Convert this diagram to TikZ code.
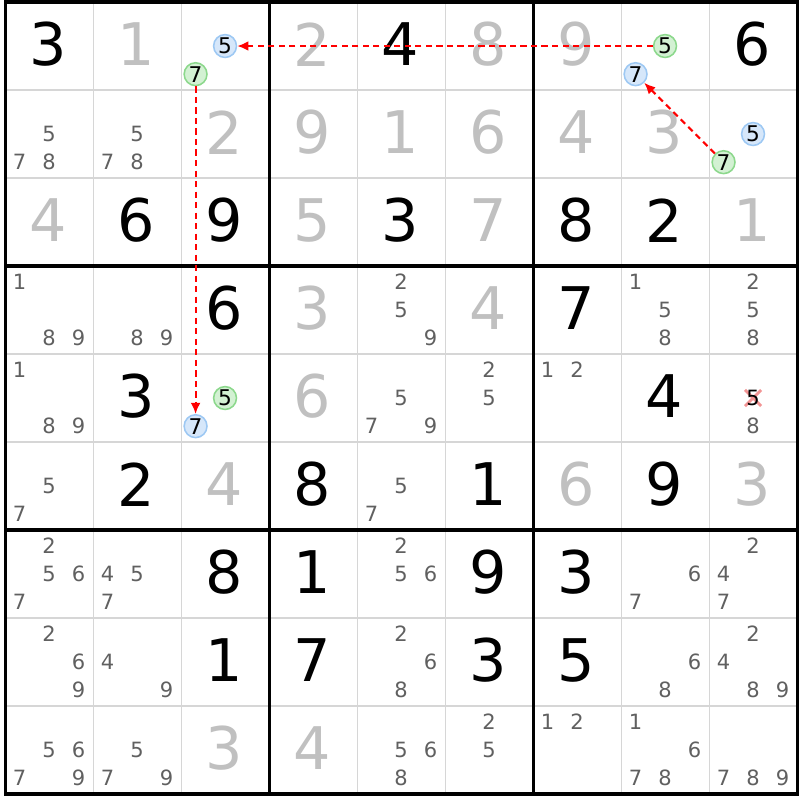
\documentclass[tikz,border=0pt]{standalone}
\usepackage{fontspec}
\setmainfont{DejaVu Sans}
\usetikzlibrary{arrows.meta,positioning}
\definecolor{solvedgray}{HTML}{C0C0C0}
\definecolor{candgray}{HTML}{606060}
\definecolor{thingray}{HTML}{D6D6D6}
\definecolor{onfill}{HTML}{D6E7FA}
\definecolor{ondraw}{HTML}{9DC8F3}
\definecolor{offfill}{HTML}{D3F1D3}
\definecolor{offdraw}{HTML}{8CD88C}
\definecolor{crossred}{HTML}{F29494}
\definecolor{linkred}{HTML}{FF0000}
\tikzset{
  big/.style={inner sep=0pt, font=\fontsize{19}{19}\selectfont},
  given/.style={big, text=black},
  solved/.style={big, text=solvedgray},
  cand/.style={inner sep=0pt, font=\fontsize{6.8}{7}\selectfont, text=candgray},
  mark on/.style={circle, inner sep=0pt, minimum size=7.4pt, line width=0.5pt,
    draw=ondraw, fill=onfill, text=black, font=\fontsize{7}{7}\selectfont},
  mark off/.style={mark on, draw=offdraw, fill=offfill},
  elim/.style={cand, text=black},
  thin line/.style={thingray, line width=0.6pt},
  box line/.style={black, line width=1pt},
  link/.style={draw=linkred, dash pattern=on 2pt off 1.4pt, line width=0.65pt,
    -{Latex[length=3.6pt,width=3.2pt]}}
}
\newcommand\candxy[3]{%
  \pgfmathsetmacro\px{#2+0.16+0.335*mod(#3-1,3)}%
  \pgfmathsetmacro\py{9-#1-0.18-0.32*floor((#3-1)/3)}%
}

\begin{document}
\begin{tikzpicture}
  \useasboundingbox (-0.0625,-0.068) rectangle (9.028,9.023);

  \foreach \i in {1,2,4,5,7,8} {
    \draw[thin line] (\i,0) -- (\i,9);
    \draw[thin line] (0,\i) -- (9,\i);
  }
  \foreach \i in {3,6} {
    \draw[box line] (\i,0) -- (\i,9);
    \draw[box line] (0,\i) -- (9,\i);
  }
  \draw[box line] (0,0) rectangle (9,9);

  \foreach \r/\c/\d in {0/0/3, 0/4/4, 0/8/6, 2/1/6, 2/2/9, 2/4/3, 2/6/8, 2/7/2,
      3/2/6, 3/6/7, 4/1/3, 4/7/4, 5/1/2, 5/3/8, 5/5/1, 5/7/9,
      6/2/8, 6/3/1, 6/5/9, 6/6/3, 7/2/1, 7/3/7, 7/5/3, 7/6/5}
    \node[given] (g\r\c) at (\c+0.49,8.52-\r) {\d};

  \foreach \r/\c/\d in {0/1/1, 0/3/2, 0/5/8, 0/6/9, 1/2/2, 1/3/9, 1/4/1, 1/5/6,
      1/6/4, 1/7/3, 2/0/4, 2/3/5, 2/5/7, 2/8/1, 3/3/3, 3/5/4, 4/3/6,
      5/2/4, 5/6/6, 5/8/3, 8/2/3, 8/3/4}
    \node[solved] (s\r\c) at (\c+0.49,8.52-\r) {\d};

  \foreach \r/\c/\ds in {1/0/{5,7,8}, 1/1/{5,7,8},
      3/0/{1,8,9}, 3/1/{8,9}, 3/4/{2,5,9}, 3/7/{1,5,8}, 3/8/{2,5,8},
      4/0/{1,8,9}, 4/4/{5,7,9}, 4/5/{2,5}, 4/6/{1,2}, 4/8/{8},
      5/0/{5,7}, 5/4/{5,7},
      6/0/{2,5,6,7}, 6/1/{4,5,7}, 6/4/{2,5,6}, 6/7/{6,7}, 6/8/{2,4,7},
      7/0/{2,6,9}, 7/1/{4,9}, 7/4/{2,6,8}, 7/7/{6,8}, 7/8/{2,4,8,9},
      8/0/{5,6,7,9}, 8/1/{5,7,9}, 8/4/{5,6,8}, 8/5/{2,5}, 8/6/{1,2},
      8/7/{1,6,7,8}, 8/8/{7,8,9}}
    \foreach \d in \ds {
      \candxy{\r}{\c}{\d}
      \node[cand] (n\r\c\d) at (\px,\py) {\d};
    }

  \foreach \r/\c/\d in {0/2/5, 0/7/7, 1/8/5, 4/2/7} {
    \candxy{\r}{\c}{\d}
    \node[mark on] (n\r\c\d) at (\px,\py) {\d};
  }
  \foreach \r/\c/\d in {0/2/7, 0/7/5, 1/8/7, 4/2/5} {
    \candxy{\r}{\c}{\d}
    \node[mark off] (n\r\c\d) at (\px,\py) {\d};
  }

  \candxy{4}{8}{5}
  \coordinate (x485) at (\px,\py);
  \draw[crossred, line width=0.9pt]
    ([shift={(-2.6pt,-2.6pt)}]x485) -- ([shift={(2.6pt,2.6pt)}]x485)
    ([shift={(-2.6pt,2.6pt)}]x485) -- ([shift={(2.6pt,-2.6pt)}]x485);
  \node[elim] (n485) at (x485) {5};

  \draw[link] (n075) -- (n025);
  \draw[link] (n187) -- (n077);
  \draw[link] (n027) -- (n427);
\end{tikzpicture}
\end{document}
